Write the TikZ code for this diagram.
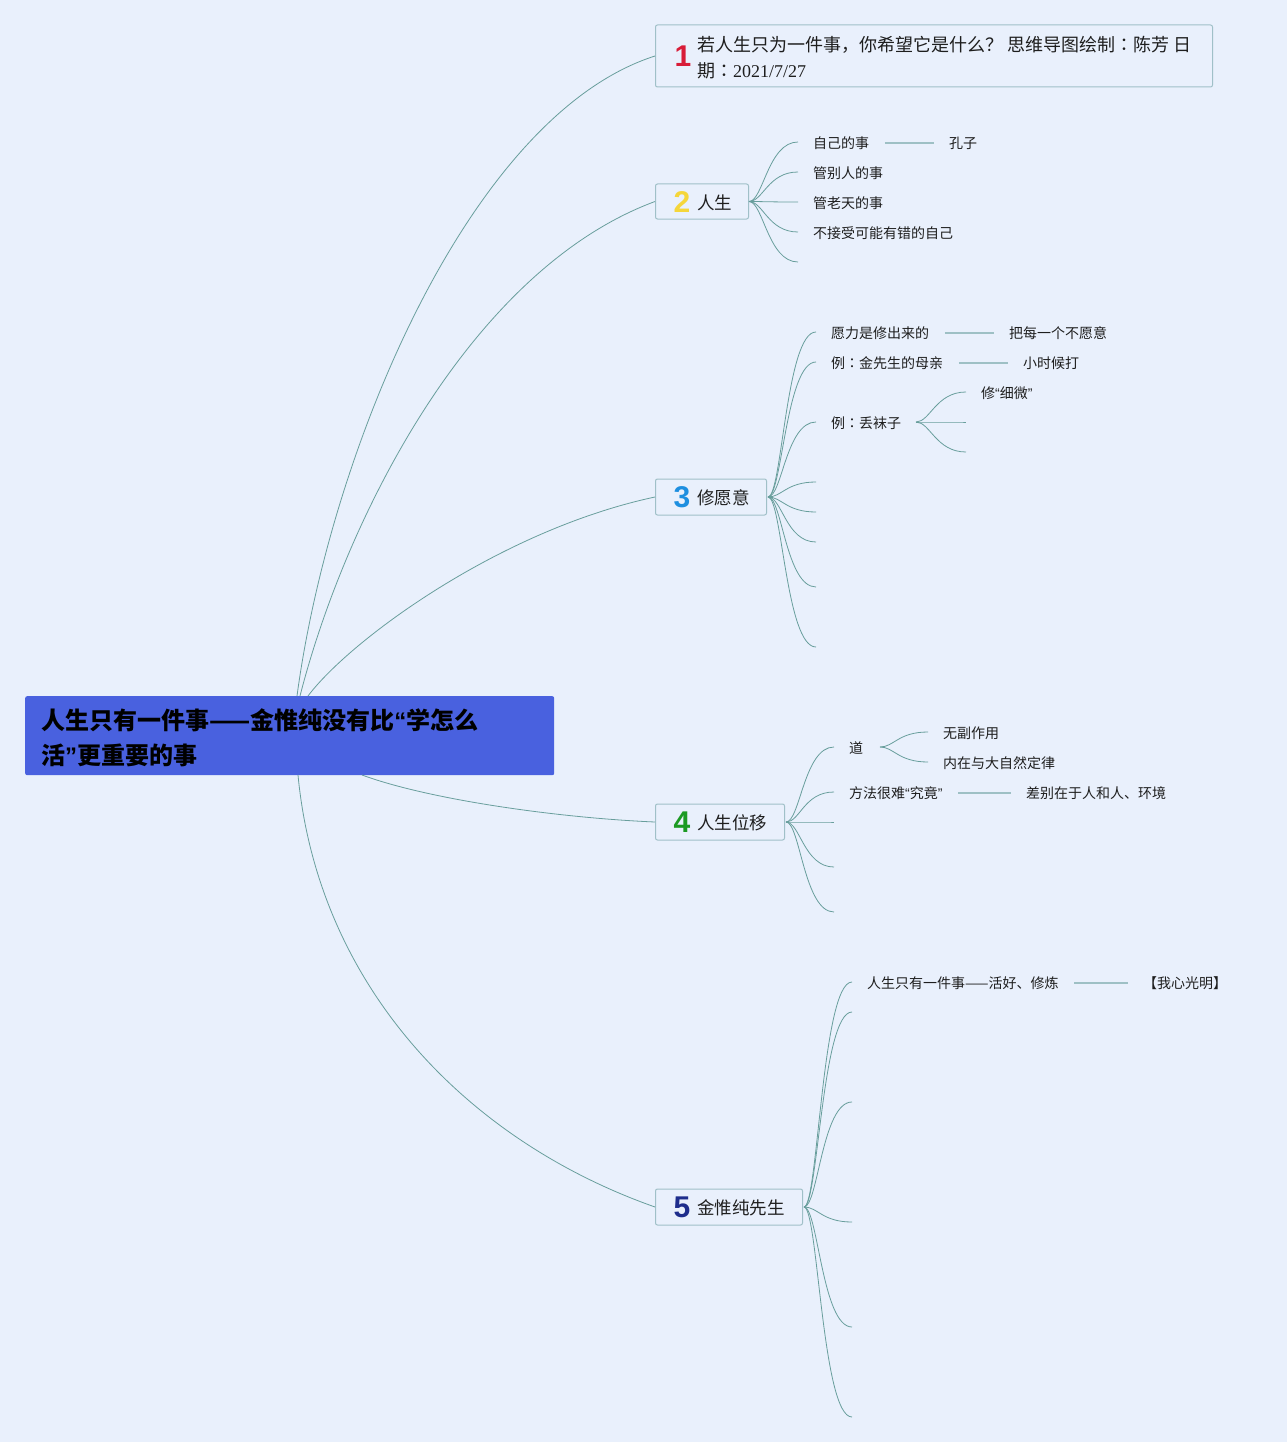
\documentclass[tikz,border=0pt]{standalone}
\usepackage{fontspec}
\setmainfont{Noto Sans CJK SC}
\newfontfamily\tcfont{Noto Sans CJK TC}
\newfontfamily\dserif{Liberation Serif}
\newfontfamily\numf{Liberation Sans}
\newcommand\qq[1]{{\numf “}#1{\numf ”}}
\newcommand\cc{{\tcfont ：}}
\definecolor{bgc}{RGB}{233,240,252}
\definecolor{rootc}{RGB}{73,97,223}
\definecolor{boxb}{RGB}{160,192,200}
\definecolor{curvec}{RGB}{104,158,156}
\definecolor{linkc}{RGB}{158,192,197}
\definecolor{txt}{RGB}{30,30,30}
\definecolor{nA}{RGB}{216,28,56}
\definecolor{nB}{RGB}{245,214,58}
\definecolor{nC}{RGB}{30,143,224}
\definecolor{nD}{RGB}{28,154,35}
\definecolor{nE}{RGB}{30,45,140}
\begin{document}
\begin{tikzpicture}[x=1pt,y=-1pt,
  branch/.style={draw=curvec, line width=0.8pt},
  link/.style={draw=linkc, line width=1.6pt, shorten <=15.5pt, shorten >=15.5pt},
  topic/.style={draw=boxb, fill=bgc, rounded corners=2pt, line width=1pt, anchor=west, inner sep=0pt},
  leaf/.style={font=\fontsize{14}{17}\selectfont, anchor=west, inner xsep=0pt, inner ysep=2pt, text=txt, yshift=-1pt},
  ttext/.style={font=\fontsize{17.5}{20}\selectfont, anchor=west, inner xsep=0pt, text=txt, yshift=-1pt},
  num/.style={font=\numf\bfseries\fontsize{30}{30}\selectfont, inner sep=0pt}
]
\fill[bgc] (0,0) rectangle (1287,1442);
\useasboundingbox (0,0) rectangle (1287,1442);

% root
\node[fill=rootc, rounded corners=2pt, anchor=north west, minimum width=529pt, minimum height=79pt, inner sep=0pt] (root) at (25,696) {};
\node[anchor=west, align=left, font=\bfseries\fontsize{24}{35}\selectfont, inner sep=0pt, text=black] (roottext) at (41,738)
  {人生只有一件事——金惟纯没有比{\numf\bfseries “}学怎么\\活{\numf\bfseries ”}更重要的事};
\coordinate (r1) at (297,696);
\coordinate (r2) at (300,696);
\coordinate (r3) at (308,696);
\coordinate (r4) at (362,775);
\coordinate (r5) at (298,775);

% topic boxes
\node[topic, minimum width=557pt, minimum height=62pt] (t1) at (655,56) {};
\node[num, text=nA] (n1) at (683,56) {1};
\node[anchor=west, align=left, font=\fontsize{18}{26}\selectfont, inner sep=0pt, text=txt] (x1) at (697,58)
  {若人生只为一件事，你希望它是什么？ 思维导图绘制\cc 陈芳 日\\期\cc{\dserif 2021/7/27}};

\node[topic, minimum width=93pt, minimum height=35pt] (t2) at (655,201.5) {};
\node[num, text=nB] (n2) at (682,202) {2};
\node[ttext] (x2) at (697,202) {人生};

\node[topic, minimum width=111pt, minimum height=36pt] (t3) at (655,497) {};
\node[num, text=nC] (n3) at (682,497) {3};
\node[ttext] (x3) at (697,497) {修愿意};

\node[topic, minimum width=129pt, minimum height=36pt] (t4) at (655,822) {};
\node[num, text=nD] (n4) at (682,822) {4};
\node[ttext] (x4) at (697,822) {人生位移};

\node[topic, minimum width=147pt, minimum height=36pt] (t5) at (655,1207) {};
\node[num, text=nE] (n5) at (682,1207) {5};
\node[ttext] (x5) at (697,1207) {金惟纯先生};

% main connectors
\draw[branch] (r1) .. controls (330,450) and (470,115) .. (t1.west);
\draw[branch] (r2) .. controls (345,520) and (470,270) .. (t2.west);
\draw[branch] (r3) .. controls (350,640) and (500,530) .. (t3.west);
\draw[branch] (r4) .. controls (430,800) and (560,818) .. (t4.west);
\draw[branch] (r5) .. controls (318,985) and (465,1140) .. (t5.west);

% ---- topic 2
\foreach \i/\y in {1/142,2/172,3/202,4/232,5/262}{
  \coordinate (e2\i) at (798,\y);
  \draw[branch] (t2.east) .. controls +(14,0) and +(-30,0) .. (e2\i);
}
\node[leaf] (l21) at (813,142) {自己的事};
\node[leaf] (l21a) at (949,142) {孔子};
\draw[link] (l21.east) -- (l21a.west);
\node[leaf] (l22) at (813,172) {管别人的事};
\node[leaf] (l23) at (813,202) {管老天的事};
\node[leaf] (l24) at (813,232) {不接受可能有错的自己};

% ---- topic 3
\foreach \i/\y in {1/332,2/362,3/422,4/482,5/512,6/542,7/587,8/647}{
  \coordinate (e3\i) at (816,\y);
  \draw[branch] ([xshift=1pt]t3.east) .. controls +(14,0) and +(-30,0) .. (e3\i);
}
\node[leaf] (l31) at (831,332) {愿力是修出来的};
\node[leaf] (l31a) at (1009,332) {把每一个不愿意};
\draw[link] (l31.east) -- (l31a.west);
\node[leaf] (l32) at (831,362) {例\cc 金先生的母亲};
\node[leaf] (l32a) at (1023,362) {小时候打};
\draw[link] (l32.east) -- (l32a.west);
\node[leaf] (l33) at (831,422) {例\cc 丢袜子};
\coordinate (s33) at (916,422);
\foreach \i/\y in {1/392,2/422,3/452}{
  \coordinate (e33\i) at (966,\y);
  \draw[branch] (s33) .. controls +(14,0) and +(-30,0) .. (e33\i);
}
\node[leaf] (l331) at (981,392) {修\qq{细微}};

% ---- topic 4
\foreach \i/\y in {1/747,2/792,3/822,4/867,5/912}{
  \coordinate (e4\i) at (834,\y);
  \draw[branch] ([xshift=1pt]t4.east) .. controls +(14,0) and +(-30,0) .. (e4\i);
}
\node[leaf] (l41) at (849,747) {道};
\coordinate (s41) at (880,747);
\foreach \i/\y in {1/732,2/762}{
  \coordinate (e41\i) at (928,\y);
  \draw[branch] (s41) .. controls +(14,0) and +(-30,0) .. (e41\i);
}
\node[leaf] (l411) at (943,732) {无副作用};
\node[leaf] (l412) at (943,762) {内在与大自然定律};
\node[leaf] (l42) at (849,792) {方法很难\qq{究竟}};
\node[leaf] (l42a) at (1026,792) {差别在于人和人、环境};
\draw[link] (l42.east) -- (l42a.west);

% ---- topic 5
\foreach \i/\y in {1/982,2/1012,3/1102,4/1222,5/1327,6/1417}{
  \coordinate (e5\i) at (852,\y);
  \draw[branch] ([xshift=1pt]t5.east) .. controls +(14,0) and +(-30,0) .. (e5\i);
}
\node[leaf] (l51) at (867,982) {人生只有一件事——活好、修炼};
\node[leaf] (l51a) at (1143,982) {【我心光明】};
\draw[link] (l51.east) -- (l51a.west);
\end{tikzpicture}
\end{document}
